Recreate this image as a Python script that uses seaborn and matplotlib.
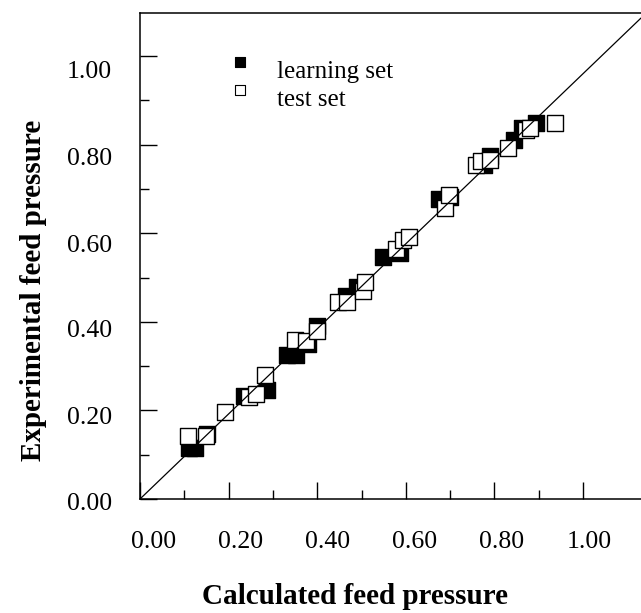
import matplotlib
matplotlib.use("Agg")
import matplotlib.pyplot as plt
from matplotlib.ticker import FixedLocator, FixedFormatter
from matplotlib.transforms import ScaledTranslation
import numpy as np
import pandas as pd
import seaborn as sns

# ---- data ----
learn_calc = [0.111, 0.124, 0.151, 0.235, 0.287, 0.332, 0.352, 0.379, 0.400,
              0.465, 0.490, 0.549, 0.587, 0.675, 0.700, 0.777, 0.790, 0.844,
              0.862, 0.894]
learn_exp = [0.115, 0.115, 0.147, 0.233, 0.246, 0.325, 0.325, 0.350, 0.391,
             0.458, 0.479, 0.546, 0.555, 0.677, 0.682, 0.754, 0.774, 0.810,
             0.837, 0.849]

test_calc = [0.108, 0.149, 0.192, 0.246, 0.262, 0.282, 0.350, 0.375, 0.400,
             0.447, 0.467, 0.503, 0.508, 0.578, 0.594, 0.607, 0.688, 0.697,
             0.758, 0.770, 0.790, 0.831, 0.871, 0.880, 0.937]
test_exp = [0.142, 0.142, 0.196, 0.230, 0.237, 0.280, 0.359, 0.357, 0.379,
            0.445, 0.445, 0.470, 0.490, 0.564, 0.585, 0.591, 0.657, 0.686,
            0.754, 0.763, 0.765, 0.792, 0.833, 0.837, 0.849]

fit_slope = 0.96
fit_intercept = 0.0

series_names = ["learning set", "test set"]
major_ticks = [0.0, 0.2, 0.4, 0.6, 0.8, 1.0]
minor_ticks = [0.1, 0.3, 0.5, 0.7, 0.9]
tick_labels = ["0.00", "0.20", "0.40", "0.60", "0.80", "1.00"]
x_title = "Calculated feed pressure"
y_title = "Experimental feed pressure"

df = pd.concat([
    pd.DataFrame({"calc": learn_calc, "exp": learn_exp, "set": series_names[0]}),
    pd.DataFrame({"calc": test_calc, "exp": test_exp, "set": series_names[1]}),
], ignore_index=True)

sns.set_theme(style="white")
plt.rcParams["font.family"] = ["Liberation Serif", "DejaVu Serif"]

W, H = 641, 613
fig = plt.figure(figsize=(W / 100, H / 100), dpi=100)
ax = fig.add_axes([140 / W, 114 / H, 501 / W, 486 / H])

sns.scatterplot(data=df, x="calc", y="exp", hue="set",
                palette={series_names[0]: "black", series_names[1]: "white"},
                marker="s", s=140, edgecolor="black", linewidth=1.0,
                legend=False, ax=ax, zorder=2)

ax.axline((0, fit_intercept), slope=fit_slope, color="black", lw=0.9, zorder=4)

ax.set_xlim(0, 501 / 443)
ax.set_ylim(0, 486 / 443)

for axis in (ax.xaxis, ax.yaxis):
    axis.set_major_locator(FixedLocator(major_ticks))
    axis.set_major_formatter(FixedFormatter(tick_labels))
    axis.set_minor_locator(FixedLocator(minor_ticks))

ax.tick_params(which="both", direction="in", left=True, bottom=True,
               top=False, right=False, color="black", width=1.0)
ax.tick_params(axis="x", which="major", length=12.5, pad=23, labelsize=18.5,
               labelcolor="black")
ax.tick_params(axis="y", which="major", length=12.5, pad=20, labelsize=18.5,
               labelcolor="black")
ax.tick_params(which="minor", length=6.5)

# tick labels in the reference drift slightly from their ticks (pixel offsets)
x_label_shift_px = [14, 12, 10, 9, 7, 6]
y_label_shift_px = [3, 5, 7, 10, 12, 14]
for lab, dx in zip(ax.get_xticklabels(), x_label_shift_px):
    lab.set_transform(lab.get_transform() + ScaledTranslation(dx / 100, 0, fig.dpi_scale_trans))
for lab, dy in zip(ax.get_yticklabels(), y_label_shift_px):
    lab.set_transform(lab.get_transform() + ScaledTranslation(0, -dy / 100, fig.dpi_scale_trans))

for side in ("left", "bottom", "top"):
    ax.spines[side].set_visible(True)
    ax.spines[side].set_color("black")
    ax.spines[side].set_linewidth(1.1)
ax.spines["right"].set_visible(False)

ax.set_xlabel(x_title, fontsize=21, fontweight="bold", color="black")
ax.set_ylabel(y_title, fontsize=21, fontweight="bold", color="black")
ax.xaxis.set_label_coords(0.43, -0.2)
ax.xaxis.label.set_verticalalignment("center")
ax.yaxis.set_label_coords(-0.212, 0.43)
ax.yaxis.label.set_verticalalignment("center")

# legend (drawn in axes coordinates, marker above the text as in the reference)
legend_fill = ["black", "white"]
legend_marker_y = [0.900, 0.8416]
legend_text_y = [0.866, 0.8086]
for name, fc, my, ty in zip(series_names, legend_fill, legend_marker_y, legend_text_y):
    ax.scatter([0.1996], [my], transform=ax.transAxes, marker="s", s=48,
               facecolor=fc, edgecolor="black", linewidth=0.8, zorder=5,
               clip_on=False)
    ax.text(0.2735, ty, name, transform=ax.transAxes, fontsize=18,
            ha="left", va="baseline", color="black")

fig.savefig("out.png", dpi=100, facecolor="white")
